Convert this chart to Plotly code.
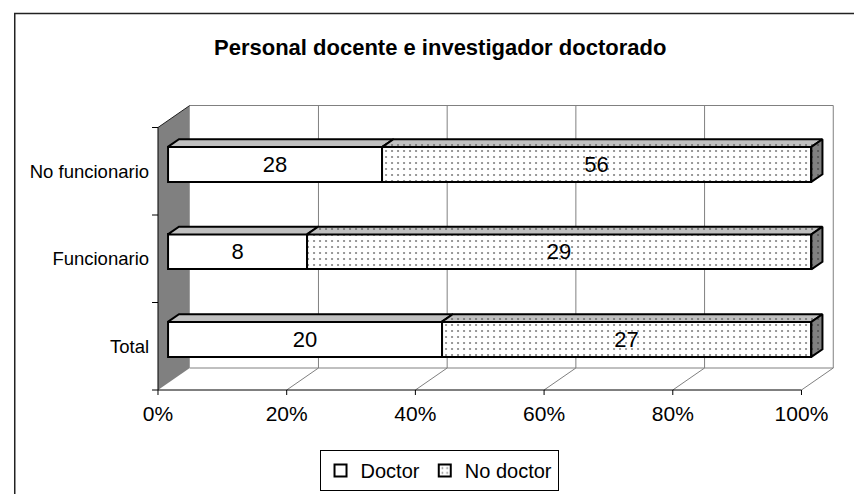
import plotly.graph_objects as go

# ---------------- data ----------------
categories = ["Total", "Funcionario", "No funcionario"]
doctor = [20, 8, 28]
no_doctor = [27, 29, 56]
series_names = ["Doctor", "No doctor"]
x_tick_vals = [0, 20, 40, 60, 80, 100]
x_tick_text = ["0%", "20%", "40%", "60%", "80%", "100%"]
title_text = "Personal docente e investigador doctorado"

# ---------------- geometry (screen pixels -> figure pixels -> data units) ----------------
W, H = 862, 494
OFF_X, OFF_Y = 12.0, 8.0        # page offset of the figure
def fx(px): return px - OFF_X
def fy(py): return py - OFF_Y

PX_X0 = fx(157.0)      # pixel of 0% on front plane
PX_PER_PCT = 6.48      # pixels per percent
PX_Y_FLOOR = fy(390.0) # pixel of floor front edge (y = -0.5)
PX_PER_CAT = 87.5      # pixels per category
DEPTH_PX_X, DEPTH_PX_Y = 32.0, 22.0

DX = DEPTH_PX_X / PX_PER_PCT
DY = DEPTH_PX_Y / PX_PER_CAT
F1, F2 = 0.31, 0.66
HALF = 0.2

left_px, right_px, top_px, bottom_px = fx(148.0), fx(845.0), fy(100.0), fy(397.0)
x_range = [(left_px - PX_X0) / PX_PER_PCT, (right_px - PX_X0) / PX_PER_PCT]
y_range = [-0.5 - (bottom_px - PX_Y_FLOOR) / PX_PER_CAT,
           -0.5 + (PX_Y_FLOOR - top_px) / PX_PER_CAT]

n = len(categories)
ypos = list(range(n))
totals = [d + nd for d, nd in zip(doctor, no_doctor)]
pct_doc = [d / t * 100 for d, t in zip(doctor, totals)]
pct_nodoc = [nd / t * 100 for nd, t in zip(no_doctor, totals)]

GREY = "#808080"
SILVER = "#c0c0c0"
FONT = "Arial, Liberation Sans, sans-serif"

def P(x, y, d):
    return x + d * DX, y + d * DY

fig = go.Figure()

dot = dict(shape=".", fgcolor="black", bgcolor="white", size=6, solidity=0.1)
fig.add_trace(go.Bar(
    name=series_names[0], orientation="h",
    x=pct_doc, y=[v + F1 * DY for v in ypos], base=[F1 * DX] * n,
    width=2 * HALF, marker=dict(color="white", line=dict(color="black", width=2)),
    text=[str(v) for v in doctor], textposition="inside", insidetextanchor="middle",
    textangle=0, constraintext="none",
    insidetextfont=dict(family=FONT, size=22, color="black"),
    hoverinfo="skip",
))
fig.add_trace(go.Bar(
    name=series_names[1], orientation="h",
    x=pct_nodoc, y=[v + F1 * DY for v in ypos], base=[p + F1 * DX for p in pct_doc],
    width=2 * HALF, marker=dict(color="white", line=dict(color="black", width=2), pattern=dot),
    text=[str(v) for v in no_doctor], textposition="inside", insidetextanchor="middle",
    textangle=0, constraintext="none",
    insidetextfont=dict(family=FONT, size=22, color="black"),
    hoverinfo="skip",
))

def poly(pts, fill, pattern=None):
    xs = [p[0] for p in pts] + [pts[0][0]]
    ys = [p[1] for p in pts] + [pts[0][1]]
    kw = dict(x=xs, y=ys, mode="lines", fill="toself", fillcolor=fill,
              line=dict(color="black", width=2), showlegend=False, hoverinfo="skip")
    if pattern:
        kw["fillpattern"] = pattern
    fig.add_trace(go.Scatter(**kw))

for i in range(n):
    yc = ypos[i]
    segs = [(0, pct_doc[i], SILVER, None),
            (pct_doc[i], 100, SILVER, dict(shape=".", fgcolor="#202020", bgcolor=SILVER, size=6, solidity=0.1))]
    for a, b, col, pat in segs:
        pts = [P(a, yc + HALF, F1), P(b, yc + HALF, F1), P(b, yc + HALF, F2), P(a, yc + HALF, F2)]
        poly(pts, col, pat)
    end = [P(100, yc - HALF, F1), P(100, yc + HALF, F1), P(100, yc + HALF, F2), P(100, yc - HALF, F2)]
    poly(end, GREY, dict(shape=".", fgcolor="#202020", bgcolor=GREY, size=6, solidity=0.1))

def path(pts):
    return "M " + " L ".join(f"{x},{y}" for x, y in pts) + " Z"

def line(p, q, color, width):
    fig.add_shape(type="line", xref="x", yref="y", x0=p[0], y0=p[1], x1=q[0], y1=q[1],
                  line=dict(color=color, width=width), layer="below")

ylo, yhi = -0.5, n - 0.5
fig.add_shape(type="path", xref="x", yref="y", layer="below",
              path=path([P(0, ylo, 0), P(0, ylo, 1), P(0, yhi, 1), P(0, yhi, 0)]),
              fillcolor=GREY, line=dict(width=0))
for v in x_tick_vals[1:]:
    line(P(v, ylo, 1), P(v, yhi, 1), GREY, 1)
    line(P(v, ylo, 0), P(v, ylo, 1), GREY, 1)
line(P(0, yhi, 1), P(100, yhi, 1), GREY, 1)
line(P(0, ylo, 1), P(100, ylo, 1), GREY, 1)
line(P(0, yhi, 0), P(0, yhi, 1), "#202020", 1)
line(P(0, ylo, 0), P(100, ylo, 0), "black", 1)
line(P(0, ylo, 0), P(0, yhi, 0), "black", 1)
tick_x = 5.0 / PX_PER_CAT
for v in x_tick_vals:
    line((v, ylo), (v, ylo - tick_x), "black", 1)
tick_y = 6.0 / PX_PER_PCT
for k in range(n + 1):
    line((0, ylo + k), (-tick_y, ylo + k), "black", 1)

# outer chart border (right/bottom edges beyond the view)
fig.add_shape(type="rect", xref="paper", yref="paper", x0=0.75 / W, x1=1.02,
              y0=-0.02, y1=1 - fy(13.5) / H, line=dict(color="#222222", width=1.5), layer="above")

fig.add_annotation(text=title_text, xref="paper", yref="paper", x=fx(441) / W, y=1 - fy(47) / H,
                   xanchor="center", yanchor="middle", showarrow=False,
                   font=dict(family=FONT, size=22, color="black", weight="bold"))

fig.update_layout(
    width=W, height=H, margin=dict(l=0, r=0, t=0, b=0),
    paper_bgcolor="white", plot_bgcolor="rgba(0,0,0,0)",
    barmode="overlay", bargap=0,
    xaxis=dict(domain=[left_px / W, right_px / W], range=x_range, showgrid=False, zeroline=False,
               showline=False, ticks="", tickvals=x_tick_vals, ticktext=x_tick_text,
               tickfont=dict(family=FONT, size=21, color="black"), ticklabelstandoff=2),
    yaxis=dict(domain=[1 - bottom_px / H, 1 - top_px / H], range=y_range, showgrid=False,
               zeroline=False, showline=False, ticks="", tickvals=ypos, ticktext=categories,
               tickfont=dict(family=FONT, size=18.5, color="black"), ticklabelstandoff=-1),
    legend=dict(orientation="h", x=fx(440) / W, xanchor="center", y=1 - fy(491) / H, yanchor="bottom",
                bordercolor="black", borderwidth=1, bgcolor="white",
                font=dict(family=FONT, size=20, color="black"), traceorder="normal",
                itemwidth=30, tracegroupgap=0),
    showlegend=True,
)

fig.write_html("out.html")
